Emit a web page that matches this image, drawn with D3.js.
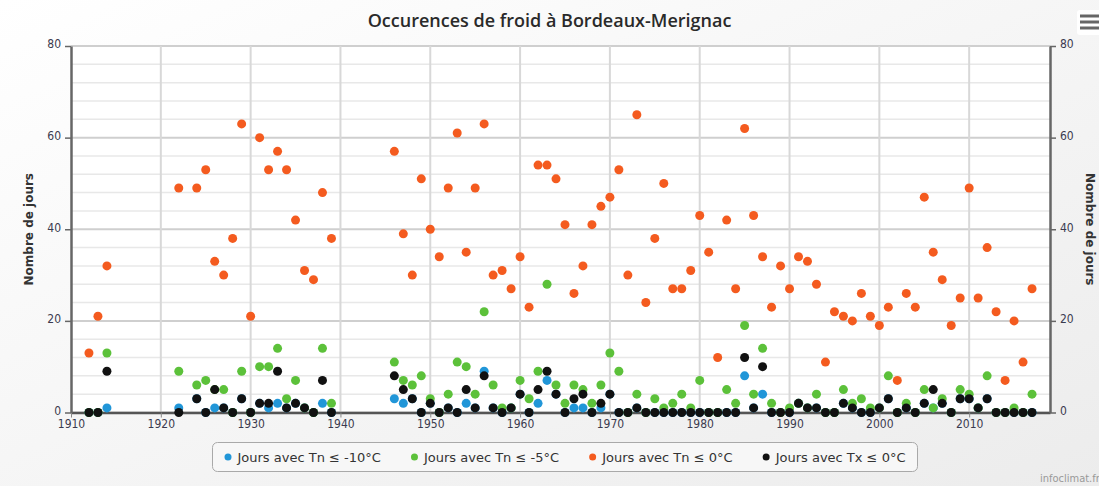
<!DOCTYPE html>
<html>
<head>
<meta charset="utf-8">
<script src="https://cdn.jsdelivr.net/npm/d3@7"></script>
<style>
body { margin: 0; padding: 0; }
svg { display: block; }
</style>
</head>
<body>
<main></main>
<script>
var years = [1912, 1913, 1914, 1922, 1924, 1925, 1926, 1927, 1928, 1929, 1930, 1931, 1932, 1933, 1934, 1935, 1936, 1937, 1938, 1939,
    1946, 1947, 1948, 1949, 1950, 1951, 1952, 1953, 1954, 1955, 1956, 1957, 1958, 1959, 1960, 1961, 1962, 1963, 1964, 1965,
    1966, 1967, 1968, 1969, 1970, 1971, 1972, 1973, 1974, 1975, 1976, 1977, 1978, 1979, 1980, 1981, 1982, 1983, 1984, 1985,
    1986, 1987, 1988, 1989, 1990, 1991, 1992, 1993, 1994, 1995, 1996, 1997, 1998, 1999, 2000, 2001, 2002, 2003, 2004, 2005,
    2006, 2007, 2008, 2009, 2010, 2011, 2012, 2013, 2014, 2015, 2016, 2017];
// Tn <= -10
var tn10 = [0, 0, 1, 1, 3, 0, 1, 1, 0, 3, 0, 2, 1, 2, 1, 2, 1, 0, 2, 0,
    3, 2, 3, 0, 2, 0, 1, 0, 2, 1, 9, 1, 0, 1, 4, 0, 2, 7, 4, 0,
    1, 1, 0, 1, 4, 0, 0, 1, 0, 0, 0, 0, 0, 0, 0, 0, 0, 0, 0, 8,
    1, 4, 0, 0, 0, 2, 1, 1, 0, 0, 2, 1, 0, 0, 1, 3, 0, 1, 0, 2,
    1, 2, 0, 3, 3, 1, 3, 0, 0, 0, 0, 0];
// Tn <= -5
var tn5 = [0, 0, 13, 9, 6, 7, 5, 5, 0, 9, 0, 10, 10, 14, 3, 7, 1, 0, 14, 2,
    11, 7, 6, 8, 3, 0, 4, 11, 10, 4, 22, 6, 1, 1, 7, 3, 9, 28, 6, 2,
    6, 5, 2, 6, 13, 9, 0, 4, 0, 3, 1, 2, 4, 1, 7, 0, 0, 5, 2, 19,
    4, 14, 2, 0, 1, 2, 1, 4, 0, 0, 5, 2, 3, 1, 1, 8, 0, 2, 0, 5,
    1, 3, 0, 5, 4, 1, 8, 0, 0, 1, 0, 4];
// Tn <= 0
var tn0 = [13, 21, 32, 49, 49, 53, 33, 30, 38, 63, 21, 60, 53, 57, 53, 42, 31, 29, 48, 38,
    57, 39, 30, 51, 40, 34, 49, 61, 35, 49, 63, 30, 31, 27, 34, 23, 54, 54, 51, 41,
    26, 32, 41, 45, 47, 53, 30, 65, 24, 38, 50, 27, 27, 31, 43, 35, 12, 42, 27, 62,
    43, 34, 23, 32, 27, 34, 33, 28, 11, 22, 21, 20, 26, 21, 19, 23, 7, 26, 23, 47,
    35, 29, 19, 25, 49, 25, 36, 22, 7, 20, 11, 27];
// Tx <= 0
var tx0 = [0, 0, 9, 0, 3, 0, 5, 1, 0, 3, 0, 2, 2, 9, 1, 2, 1, 0, 7, 0,
    8, 5, 3, 0, 2, 0, 1, 0, 5, 1, 8, 1, 0, 1, 4, 0, 5, 9, 4, 0,
    3, 4, 0, 2, 4, 0, 0, 1, 0, 0, 0, 0, 0, 0, 0, 0, 0, 0, 0, 12,
    1, 10, 0, 0, 0, 2, 1, 1, 0, 0, 2, 1, 0, 0, 1, 3, 0, 1, 0, 2,
    5, 2, 0, 3, 3, 1, 3, 0, 0, 0, 0, 0];

var seriesNames = ["Jours avec Tn \u2264 -10\u00b0C", "Jours avec Tn \u2264 -5\u00b0C", "Jours avec Tn \u2264 0\u00b0C", "Jours avec Tx \u2264 0\u00b0C"];
var seriesColors = ["#2196d8", "#5cc13a", "#f45b1f", "#111111"];
var seriesValues = [tn10, tn5, tn0, tx0];
var xTicks = [1910, 1920, 1930, 1940, 1950, 1960, 1970, 1980, 1990, 2000, 2010];
var yTicks = [0, 20, 40, 60, 80];

var W = 1099, H = 486;
var font = "'DejaVu Sans Condensed', 'DejaVu Sans', sans-serif";
var wide = "'DejaVu Sans', sans-serif";

var svg = d3.select("main").append("svg")
    .attr("width", W)
    .attr("height", H);

var grad = svg.append("defs").append("linearGradient")
    .attr("id", "bg").attr("x1", 0).attr("y1", 0).attr("x2", 1).attr("y2", 1);
grad.append("stop").attr("offset", "0%").attr("stop-color", "#ffffff");
grad.append("stop").attr("offset", "100%").attr("stop-color", "#ececec");
svg.append("rect").attr("width", W).attr("height", H).attr("fill", "url(#bg)");

var x = d3.scaleLinear().domain([1910, 2019]).range([71, 1050]);
var y = d3.scaleLinear().domain([0, 80]).range([412.5, 46]);

// plot background
svg.append("rect")
    .attr("x", x.range()[0]).attr("y", y(80))
    .attr("width", x.range()[1] - x.range()[0])
    .attr("height", y(0) - y(80))
    .attr("fill", "#ffffff");

// horizontal grid, minor every 4
var hg = svg.append("g");
d3.range(0, 81, 4).forEach(function(v) {
    hg.append("line")
        .attr("x1", x.range()[0]).attr("x2", x.range()[1])
        .attr("y1", y(v)).attr("y2", y(v))
        .attr("stroke", v % 20 === 0 ? "#cfcfcf" : "#e8e8e8")
        .attr("stroke-width", v % 20 === 0 ? 2 : 1.5);
});

// vertical grid
xTicks.forEach(function(t) {
    if (t === 1910) return;
    hg.append("line")
        .attr("x1", x(t)).attr("x2", x(t))
        .attr("y1", y(80)).attr("y2", y(0))
        .attr("stroke", "#d8d8d8")
        .attr("stroke-width", 2);
});

// axes
var xAxis = d3.axisBottom(x).tickValues(xTicks).tickFormat(d3.format("d")).tickSize(5).tickSizeOuter(0);
var gx = svg.append("g").attr("transform", "translate(0," + y(0) + ")").call(xAxis);
gx.select(".domain").attr("stroke", "#555").attr("stroke-width", 2.5);
gx.selectAll(".tick line").attr("stroke", "#888");
gx.selectAll(".tick text").attr("dy", "0.65em").attr("fill", "#3b3b4f")
    .style("font-family", font).style("font-size", "12px");

var yAxisL = d3.axisLeft(y).tickValues(yTicks).tickSize(6).tickSizeOuter(0);
var gyl = svg.append("g").attr("transform", "translate(" + x.range()[0] + ",0)").call(yAxisL);
gyl.select(".domain").attr("stroke", "#666").attr("stroke-width", 2.5);
gyl.selectAll(".tick line").attr("stroke", "#666").attr("stroke-width", 1.5);
gyl.selectAll(".tick text").attr("x", -10).attr("dy", "0.15em").attr("fill", "#3b3b4f")
    .style("font-family", font).style("font-size", "12px");

var yAxisR = d3.axisRight(y).tickValues(yTicks).tickSize(6).tickSizeOuter(0);
var gyr = svg.append("g").attr("transform", "translate(" + x.range()[1] + ",0)").call(yAxisR);
gyr.select(".domain").attr("stroke", "#666").attr("stroke-width", 2.5);
gyr.selectAll(".tick line").attr("stroke", "#666").attr("stroke-width", 1.5);
gyr.selectAll(".tick text").attr("x", 10).attr("dy", "0.15em").attr("fill", "#3b3b4f")
    .style("font-family", font).style("font-size", "12px");

// axis titles
svg.append("text")
    .attr("transform", "translate(33," + ((y(0) + y(80)) / 2) + ") rotate(-90)")
    .attr("text-anchor", "middle")
    .attr("fill", "#333")
    .style("font-family", wide).style("font-size", "12px").style("font-weight", "bold")
    .text("Nombre de jours");
svg.append("text")
    .attr("transform", "translate(1086," + ((y(0) + y(80)) / 2) + ") rotate(90)")
    .attr("text-anchor", "middle")
    .attr("fill", "#333")
    .style("font-family", wide).style("font-size", "12px").style("font-weight", "bold")
    .text("Nombre de jours");

// points
for (var s = 0; s < seriesValues.length; s++) {
    var vals = seriesValues[s];
    var g = svg.append("g");
    for (var i = 0; i < years.length; i++) {
        g.append("circle")
            .attr("cx", x(years[i]))
            .attr("cy", y(vals[i]))
            .attr("r", 4.5)
            .attr("fill", seriesColors[s]);
    }
}

// title
svg.append("text")
    .attr("x", W / 2).attr("y", 27)
    .attr("text-anchor", "middle")
    .attr("fill", "#2a2a2a")
    .style("font-family", "'Open Sans', sans-serif").style("font-size", "18px").style("font-weight", "600")
    .text("Occurences de froid \u00e0 Bordeaux-Merignac");

// menu button
svg.append("rect").attr("x", 1077).attr("y", 10).attr("width", 26).attr("height", 25)
    .attr("rx", 3).attr("fill", "#ffffff");
[16, 22, 28].forEach(function(yy) {
    svg.append("line").attr("x1", 1080).attr("x2", 1099).attr("y1", yy).attr("y2", yy)
        .attr("stroke", "#666").attr("stroke-width", 3);
});

// legend: measure the labels, then lay the items out centred in the box
var legend = svg.append("g");
var boxX = 212.5, boxW = 705;
legend.append("rect")
    .attr("x", boxX).attr("y", 442.5).attr("width", boxW).attr("height", 29)
    .attr("rx", 5).attr("fill", "#f7f7f7").attr("stroke", "#a9a9a9").attr("stroke-width", 1);
var labels = [];
var widths = [];
for (var k = 0; k < seriesNames.length; k++) {
    var t = legend.append("text").attr("y", 461.5)
        .attr("fill", "#333")
        .style("font-family", wide).style("font-size", "13px")
        .text(seriesNames[k]);
    labels.push(t);
    widths.push(t.node().getComputedTextLength());
}
var sym = 13;
var inner = boxW - 24;
var gap = (inner - d3.sum(widths) - sym * widths.length) / (widths.length - 1);
var cur = boxX + 12;
for (var k = 0; k < labels.length; k++) {
    legend.append("circle").attr("cx", cur + 3.5).attr("cy", 457).attr("r", 3.5).attr("fill", seriesColors[k]);
    labels[k].attr("x", cur + sym);
    cur += sym + widths[k] + gap;
}

// credit
svg.append("text").attr("x", 1040).attr("y", 482)
    .attr("fill", "#999")
    .style("font-family", font).style("font-size", "11px")
    .text("infoclimat.fr");
</script>
</body>
</html>
